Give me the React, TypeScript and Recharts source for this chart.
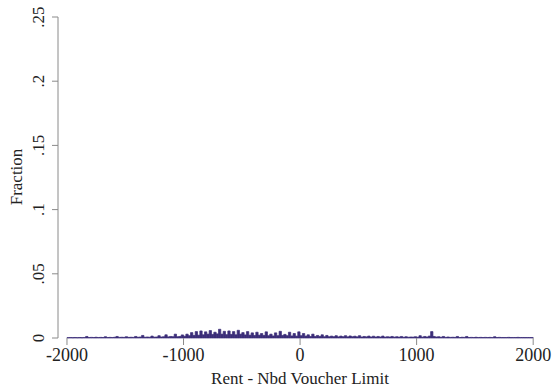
import { ComposedChart, Bar, XAxis, YAxis, Label } from 'recharts';

// Histogram bins, 20 units wide, from -2000 to 2000
const binStarts = Array.from({ length: 200 }, (_, i) => -2000 + i * 20);
const fractions = [
  0.0003, 0.0004, 0.0003, 0.0004, 0.0003, 0.0004, 0.0003, 0.0004, 0.0012, 0.0004,
  0.0005, 0.0004, 0.0006, 0.0004, 0.0005, 0.0004, 0.001, 0.0004, 0.0005, 0.0004,
  0.0006, 0.0012, 0.0005, 0.0006, 0.0005, 0.001, 0.0005, 0.0006, 0.0005, 0.0012,
  0.0006, 0.0008, 0.002, 0.0006, 0.0008, 0.0006, 0.0015, 0.0007, 0.0008, 0.0018,
  0.0008, 0.001, 0.0025, 0.0009, 0.0012, 0.001, 0.003, 0.001, 0.0012, 0.0024,
  0.0014, 0.003, 0.0018, 0.0042, 0.002, 0.005, 0.0022, 0.0055, 0.0025, 0.0048,
  0.003, 0.0058, 0.0028, 0.0045, 0.0032, 0.0068, 0.003, 0.0052, 0.0026, 0.0055,
  0.0028, 0.005, 0.0025, 0.006, 0.003, 0.0042, 0.0024, 0.005, 0.0022, 0.004,
  0.002, 0.0045, 0.0022, 0.0035, 0.002, 0.0048, 0.0018, 0.003, 0.0016, 0.004,
  0.0018, 0.0052, 0.002, 0.0028, 0.0018, 0.0045, 0.0016, 0.0035, 0.0015, 0.0048,
  0.0018, 0.0035, 0.0015, 0.0025, 0.0012, 0.003, 0.0012, 0.002, 0.0012, 0.0025,
  0.001, 0.002, 0.001, 0.0015, 0.001, 0.0018, 0.0009, 0.0015, 0.001, 0.0018,
  0.0009, 0.0016, 0.001, 0.0014, 0.0009, 0.0018, 0.0008, 0.0012, 0.0009, 0.0015,
  0.0008, 0.0014, 0.0008, 0.0012, 0.0008, 0.0015, 0.0007, 0.001, 0.0008, 0.0012,
  0.0007, 0.001, 0.0007, 0.0012, 0.0006, 0.001, 0.0006, 0.0008, 0.0007, 0.001,
  0.0006, 0.0018, 0.0007, 0.0012, 0.0008, 0.0015, 0.005, 0.0012, 0.0008, 0.001,
  0.0006, 0.0012, 0.0005, 0.0008, 0.0005, 0.0006, 0.0005, 0.0012, 0.0004, 0.0006,
  0.0005, 0.0012, 0.0004, 0.0005, 0.0004, 0.0006, 0.0004, 0.0005, 0.0004, 0.0005,
  0.0004, 0.0005, 0.0004, 0.001, 0.0004, 0.0005, 0.0004, 0.0004, 0.0004, 0.0005,
  0.0004, 0.0004, 0.0004, 0.0005, 0.0004, 0.0004, 0.0004, 0.0004, 0.0004, 0.0004,
];
const xTicks = [-2000, -1000, 0, 1000, 2000];
const yTicks = [0, 0.05, 0.1, 0.15, 0.2, 0.25];
const yTickLabels = ['0', '.05', '.1', '.15', '.2', '.25'];

const data = binStarts.map((start, i) => ({ mid: start + 10, fraction: fractions[i] }));

const FONT = '"Liberation Serif", "DejaVu Serif", serif';
const BAR = '#3b2d78';
const AXIS = '#8a8a8a';
const TEXT = '#222';

const YTick = ({ y, payload }: any) => {
  const idx = yTicks.indexOf(payload.value);
  return (
    <text
      transform={`translate(44, ${y}) rotate(-90)`}
      textAnchor="middle"
      fontFamily={FONT}
      fontSize={17}
      fill={TEXT}
    >
      {yTickLabels[idx] ?? payload.value}
    </text>
  );
};

const XTick = ({ x, payload }: any) => (
  <text x={x} y={361} textAnchor="middle" fontFamily={FONT} fontSize={18} fill={TEXT}>
    {payload.value}
  </text>
);

export default function App() {
  return (
    <div style={{ position: 'absolute', left: 0, top: 0, width: 554, height: 392, background: '#fff' }}>
      <ComposedChart
        width={554}
        height={392}
        data={data}
        margin={{ top: 17, right: 15, bottom: 0, left: 0 }}
        barCategoryGap={0}
      >
        <XAxis
          type="number"
          dataKey="mid"
          domain={[-2077, 2050]}
          ticks={xTicks}
          height={54}
          axisLine={false}
          tickLine={{ stroke: AXIS }}
          tickSize={7}
          tick={<XTick />}
          interval={0}
        >
          <Label
            content={() => (
              <text x={300} y={384} textAnchor="middle" fontFamily={FONT} fontSize={17} fill={TEXT}>
                Rent - Nbd Voucher Limit
              </text>
            )}
          />
        </XAxis>
        <YAxis
          type="number"
          domain={[0, 0.25]}
          ticks={yTicks}
          width={58}
          axisLine={{ stroke: AXIS }}
          tickLine={{ stroke: AXIS }}
          tickSize={6}
          tick={<YTick />}
          interval={0}
        >
          <Label
            content={() => (
              <text
                transform="translate(22, 177) rotate(-90)"
                textAnchor="middle"
                fontFamily={FONT}
                fontSize={17}
                fill={TEXT}
              >
                Fraction
              </text>
            )}
          />
        </YAxis>
        <Bar
          dataKey="fraction"
          fill={BAR}
          stroke={BAR}
          strokeWidth={0.7}
          barSize={2.33}
          isAnimationActive={false}
        />
      </ComposedChart>
    </div>
  );
}
